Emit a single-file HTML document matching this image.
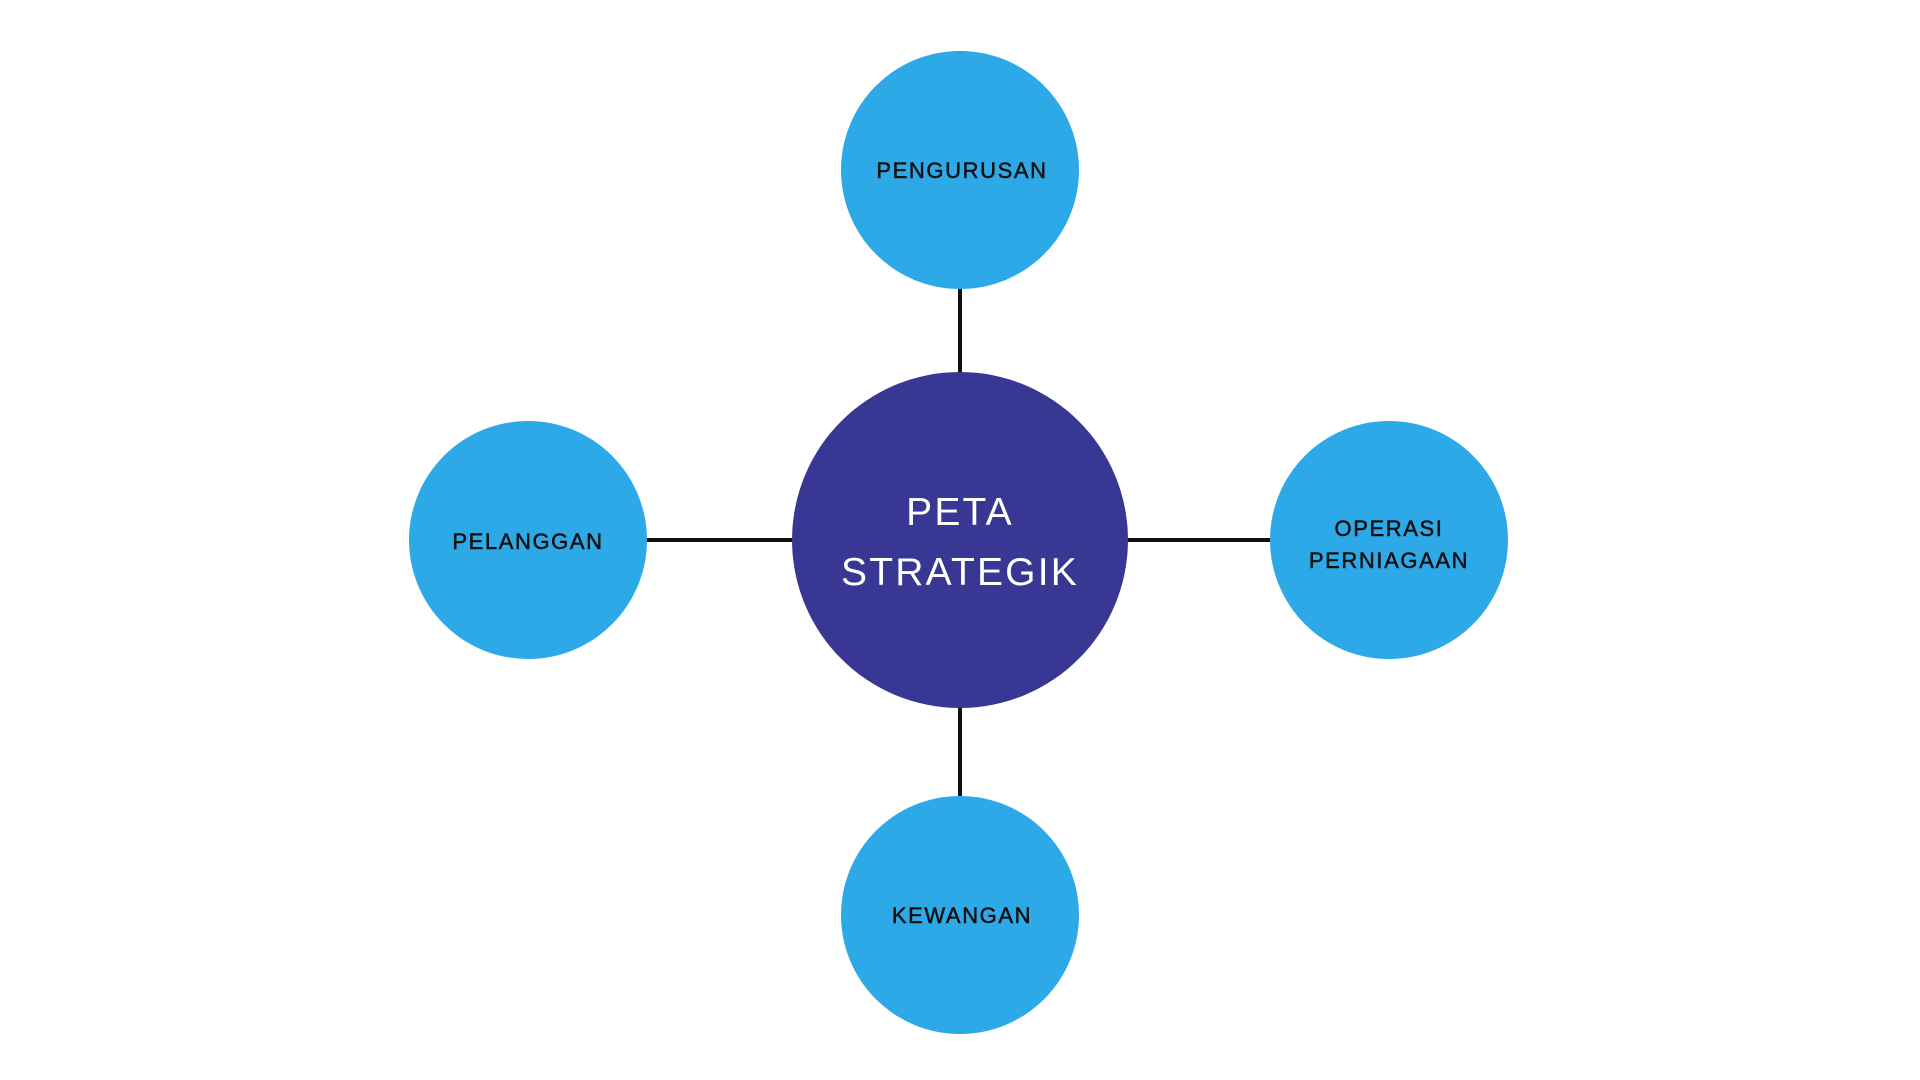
<!DOCTYPE html>
<html><head><meta charset="utf-8"><style>html,body{margin:0;padding:0;background:#fff;width:1920px;height:1080px;overflow:hidden}</style></head>
<body>
<svg width="1920" height="1080" viewBox="0 0 1920 1080" xmlns="http://www.w3.org/2000/svg" font-family="Liberation Sans, sans-serif">
<g stroke="#111" stroke-width="4">
<line x1="960" y1="287" x2="960" y2="374"/>
<line x1="960" y1="706" x2="960" y2="796"/>
<line x1="646" y1="540" x2="794" y2="540"/>
<line x1="1126" y1="540" x2="1271" y2="540"/>
</g>
<circle cx="960" cy="170" r="119" fill="#2ea9e8"/>
<circle cx="960" cy="915" r="119" fill="#2ea9e8"/>
<circle cx="528" cy="540" r="119" fill="#2ea9e8"/>
<circle cx="1389" cy="540" r="119" fill="#2ea9e8"/>
<circle cx="960" cy="540" r="168" fill="#383894"/>
<g fill="#111" stroke="#111" stroke-width="0.5" font-size="22" text-anchor="middle" letter-spacing="1.6">
<text x="962" y="178">PENGURUSAN</text>
<text x="962" y="923">KEWANGAN</text>
<text x="528" y="549">PELANGGAN</text>
<text x="1389" y="536">OPERASI</text>
<text x="1389" y="568">PERNIAGAAN</text>
</g>
<g fill="#fff" font-size="39" text-anchor="middle" letter-spacing="2.2">
<text x="960" y="525">PETA</text>
<text x="960" y="585">STRATEGIK</text>
</g>
</svg>
</body></html>
